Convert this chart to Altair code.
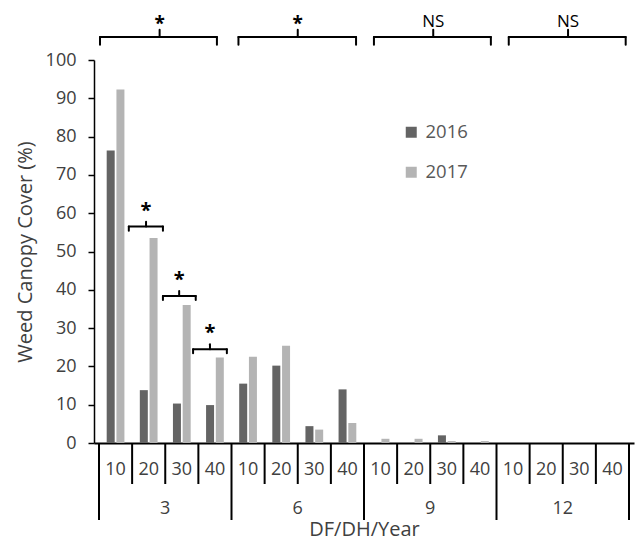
import altair as alt
import pandas as pd

# ---------------- data ----------------
DF_LEVELS = ["3", "6", "9", "12"]
DH_LEVELS = ["10", "20", "30", "40"]
YEARS = ["2016", "2017"]
cover_2016 = [76.4, 13.8, 10.3, 9.9, 15.5, 20.2, 4.4, 14.0, 0.0, 0.0, 2.0, 0.0, 0.0, 0.0, 0.0, 0.0]
cover_2017 = [92.3, 53.5, 36.0, 22.3, 22.5, 25.4, 3.5, 5.2, 1.1, 1.1, 0.5, 0.5, 0.0, 0.0, 0.0, 0.0]
y_ticks = [0, 10, 20, 30, 40, 50, 60, 70, 80, 90, 100]

# significance brackets over each DF group (x in slot units)
top_start = [0.03, 4.21, 8.30, 12.37]
top_end = [3.56, 7.76, 11.83, 15.90]
top_mid = [1.83, 6.00, 10.09, 14.16]
top_text = ["*", "*", "NS", "NS"]
top_level = [106.0, 106.0, 106.0, 106.0]

# significance brackets between years within DF 3
pair_start = [0.90, 1.93, 2.84]
pair_end = [1.93, 2.92, 3.86]
pair_mid = [1.42, 2.42, 3.35]
pair_level = [56.5, 38.4, 24.5]
pair_text = ["*", "*", "*"]

# ---------------- tables ----------------
BAR_SHIFT = 0.147
rows = []
for i in range(16):
    for yr, vals, sh in ((YEARS[0], cover_2016, -BAR_SHIFT), (YEARS[1], cover_2017, BAR_SHIFT)):
        rows.append({"slot": i, "DF": DF_LEVELS[i // 4], "DH": DH_LEVELS[i % 4],
                     "Year": yr, "cover": vals[i], "xpos": i + 0.5 + sh})
bars_df = pd.DataFrame(rows)

dh_df = pd.DataFrame([{"x": i + 0.5, "label": DH_LEVELS[i % 4]} for i in range(16)])
df_df = pd.DataFrame([{"x": g * 4 + 2, "label": DF_LEVELS[g]} for g in range(4)])
short_div = pd.DataFrame([{"x": i} for i in range(1, 16) if i % 4 != 0])
long_div = pd.DataFrame([{"x": i} for i in range(0, 17, 4)])


def bracket_segments(starts, ends, mids, levels, leg, tick):
    segs = []
    for s, e, m, lv in zip(starts, ends, mids, levels):
        segs.append({"x": s, "x2": e, "y": lv, "y2": lv})
        segs.append({"x": s, "x2": s, "y": lv, "y2": lv - leg})
        segs.append({"x": e, "x2": e, "y": lv, "y2": lv - leg})
        segs.append({"x": m, "x2": m, "y": lv, "y2": lv + tick})
    return pd.DataFrame(segs)


seg_df = pd.concat([
    bracket_segments(top_start, top_end, top_mid, top_level, 2.0, 1.9),
    bracket_segments(pair_start, pair_end, pair_mid, pair_level, 1.05, 1.3),
], ignore_index=True)

top_txt_df = pd.DataFrame({"x": top_mid,
                           "y": [l + (3.5 if t == "*" else 3.8) for l, t in zip(top_level, top_text)],
                           "label": top_text})
pair_txt_df = pd.DataFrame({"x": pair_mid, "y": [l + 4.1 for l in pair_level], "label": pair_text})

# ---------------- chart ----------------
W, H = 540, 383
TEXT = "#404040"

xscale = alt.Scale(domain=[0, 16], nice=False, zero=False)
yscale = alt.Scale(domain=[0, 100], nice=False)

x_axis = alt.Axis(labels=False, ticks=False, grid=False, domainColor="black",
                  domainWidth=2, title="DF/DH/Year", titleFontSize=20,
                  titleFontWeight="normal", titleColor=TEXT, titlePadding=76)
y_axis = alt.Axis(values=y_ticks, tickCount=11, tickSize=6, tickColor="black",
                  tickWidth=1.5, domainColor="black", domainWidth=1.5, grid=False,
                  labelFontSize=18, labelColor=TEXT, labelPadding=12,
                  labelOverlap=False,
                  title="Weed Canopy Cover (%)", titleFontSize=20,
                  titleFontWeight="normal", titleColor=TEXT, titlePadding=10)


def X(field):
    return alt.X(field, type="quantitative", scale=xscale, axis=x_axis)


def Y(field):
    return alt.Y(field, type="quantitative", scale=yscale, axis=y_axis)


bars = alt.Chart(bars_df).mark_bar(size=8).encode(
    x=X("xpos"),
    y=Y("cover"),
    color=alt.Color("Year:N", scale=alt.Scale(domain=YEARS, range=["#646464", "#b4b4b4"]),
                    legend=alt.Legend(orient="none", legendX=308, legendY=63, title=None,
                                      symbolType="square", symbolSize=121, symbolStrokeWidth=0,
                                      labelFontSize=18.5, labelColor="#595959", rowPadding=21,
                                      labelOffset=5, direction="vertical", padding=0)),
)

segs = alt.Chart(seg_df).mark_rule(color="black", strokeWidth=2, strokeCap="round").encode(
    x=X("x"), x2="x2:Q", y=Y("y"), y2="y2:Q")

top_txt_star = alt.Chart(top_txt_df[top_txt_df.label == "*"]).mark_text(
    fontSize=19, fontWeight="bold", color="black", baseline="middle").encode(
    x=X("x"), y=Y("y"), text="label:N")
top_txt_ns = alt.Chart(top_txt_df[top_txt_df.label == "NS"]).mark_text(
    fontSize=17, color="black", baseline="middle").encode(
    x=X("x"), y=Y("y"), text="label:N")
pair_txt = alt.Chart(pair_txt_df).mark_text(
    fontSize=20, fontWeight="bold", color="black", baseline="middle").encode(
    x=X("x"), y=Y("y"), text="label:N")

short_rules = alt.Chart(short_div).mark_rule(color="black", strokeWidth=2).encode(
    x=X("x"), y=alt.value(H), y2=alt.value(H + 41))
long_rules = alt.Chart(long_div).mark_rule(color="black", strokeWidth=2).encode(
    x=X("x"), y=alt.value(H), y2=alt.value(H + 77))

dh_text = alt.Chart(dh_df).mark_text(fontSize=18, color=TEXT, baseline="middle").encode(
    x=X("x"), y=alt.value(H + 27), text="label:N")
df_text = alt.Chart(df_df).mark_text(fontSize=18, color=TEXT, baseline="middle").encode(
    x=X("x"), y=alt.value(H + 66), text="label:N")

chart = alt.layer(
    bars, segs, top_txt_star, top_txt_ns, pair_txt, short_rules, long_rules, dh_text, df_text
).properties(
    width=W, height=H,
    padding={"left": 86, "top": 52, "right": 2, "bottom": 99},
    autosize=alt.AutoSizeParams(type="none"),
).configure(font="Open Sans").configure_view(stroke=None)

chart.save("out.html", embed_options={"renderer": "svg", "actions": False})
